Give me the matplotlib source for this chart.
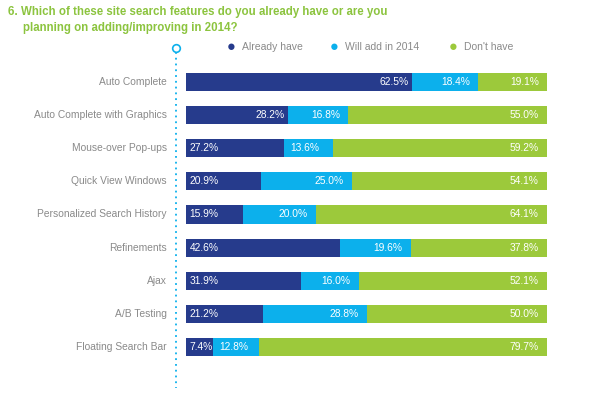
import numpy as np
import matplotlib.pyplot as plt

# data
features = ['Auto Complete', 'Auto Complete with Graphics', 'Mouse-over Pop-ups',
            'Quick View Windows', 'Personalized Search History', 'Refinements',
            'Ajax', 'A/B Testing', 'Floating Search Bar']
already = [62.5, 28.2, 27.2, 20.9, 15.9, 42.6, 31.9, 21.2, 7.4]
will_add = [18.4, 16.8, 13.6, 25.0, 20.0, 19.6, 16.0, 28.8, 12.8]
dont_have = [19.1, 55.0, 59.2, 54.1, 64.1, 37.8, 52.1, 50.0, 79.7]
series_names = ['Already have', 'Will add in 2014', "Don't have"]

# label alignment inside each segment ('l' = left, 'r' = right)
align_already = ['r', 'r', 'l', 'l', 'l', 'l', 'l', 'l', 'l']
align_will = ['r', 'r', 'l', 'r', 'r', 'r', 'r', 'r', 'l']

navy = '#263b8c'
blue = '#0cb0ec'
green = '#9cc93b'
grey = '#8a8a8a'
title_green = '#8cc43f'

plt.rcParams['font.family'] = ['Liberation Sans', 'DejaVu Sans']

fig = plt.figure(figsize=(6, 3.99), dpi=100)
ax = fig.add_axes([186/600, 1-363.5/399, 361/600, 298/399])

y = np.arange(len(features))
already = np.array(already)
will_add = np.array(will_add)
dont_have = np.array(dont_have)
h = 0.55

ax.barh(y, already, height=h, color=navy, label=series_names[0])
ax.barh(y, will_add, height=h, left=already, color=blue, label=series_names[1])
ax.barh(y, dont_have, height=h, left=already+will_add, color=green, label=series_names[2])

fs = 7.4
for i in range(len(features)):
    # already have
    if align_already[i] == 'r':
        ax.text(already[i]-0.8, y[i], '%.1f%%' % already[i], color='white', fontsize=fs,
                ha='right', va='center')
    else:
        ax.text(1.0, y[i], '%.1f%%' % already[i], color='white', fontsize=fs,
                ha='left', va='center')
    # will add
    if align_will[i] == 'r':
        ax.text(already[i]+will_add[i]-2.3, y[i], '%.1f%%' % will_add[i], color='white',
                fontsize=fs, ha='right', va='center')
    else:
        ax.text(already[i]+1.8, y[i], '%.1f%%' % will_add[i], color='white',
                fontsize=fs, ha='left', va='center')
    # don't have
    tot = already[i]+will_add[i]+dont_have[i]
    ax.text(tot-2.3, y[i], '%.1f%%' % dont_have[i], color='white', fontsize=fs,
            ha='right', va='center')
    # category label
    ax.text(-5.3, y[i], features[i], color=grey, fontsize=7.4, ha='right', va='center')

ax.set_xlim(0, 100)
ax.set_ylim(8.5, -0.5)
ax.axis('off')

# dotted guide line with open circle on top
lx = -10/361*100
ax.plot([lx, lx], [-0.91, 9.25], color=blue, ls=(0, (1, 2.2)), lw=1.3, clip_on=False)
ax.plot([lx], [-1.04], marker='o', ms=5.5, mfc='white', mec=blue, mew=1.2, clip_on=False)

# legend drawn by hand along the top
leg_x = [231, 334, 453]
for k in range(3):
    c = [navy, blue, green][k]
    fig.text(leg_x[k]/600, 1-47/399, '\u25CF', color=c, fontsize=10.5, ha='center', va='center')
    fig.text((leg_x[k]+11)/600, 1-47.5/399, series_names[k], color=grey, fontsize=7.5,
             ha='left', va='center')

fig.text(8/600, 1-12/399, '6. Which of these site search features do you already have or are you',
         color=title_green, fontsize=8.3, fontweight='bold', ha='left', va='center')
fig.text(23/600, 1-28/399, 'planning on adding/improving in 2014?',
         color=title_green, fontsize=8.3, fontweight='bold', ha='left', va='center')

plt.savefig('out.png', dpi=100)
